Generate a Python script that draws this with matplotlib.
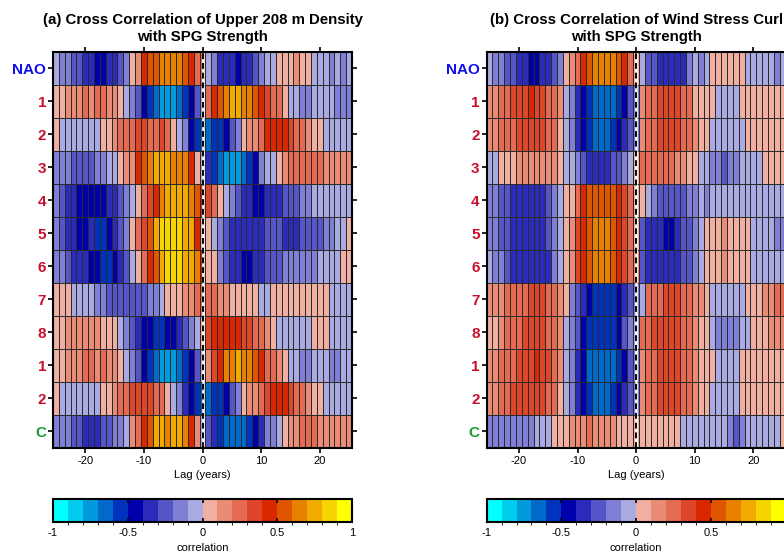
import numpy as np
import matplotlib
matplotlib.use("Agg")
import matplotlib.pyplot as plt
from matplotlib.colors import ListedColormap, BoundaryNorm

plt.rcParams['font.family'] = ['Liberation Sans', 'DejaVu Sans']
plt.rcParams['axes.unicode_minus'] = False

# lags in years
lags = np.arange(-25, 26)
row_labels = ['NAO', '1', '2', '3', '4', '5', '6', '7', '8', '1', '2', 'C']
label_colors = ['#1010ee'] + ['#c8102e'] * 10 + ['#1a9a2a']

# colour bins: k = bin number (1..10 positive, -1..-10 negative)
density_bins = [
    [-1,-2,-2,-3,-3,-4,-4,-5,-5,-4,-4,-3,-2,1,2,5,6,6,7,7,7,7,6,5,3,3,-1,-2,-4,-4,-4,-5,-4,-4,-3,-2,-1,-1,1,1,1,2,1,1,-1,-1,-1,-2,-1,-2,-1],
    [1,1,2,2,2,3,2,3,3,2,2,1,-1,-2,-3,-5,-6,-7,-8,-8,-8,-7,-6,-5,-3,-1,3,5,6,7,8,8,7,7,6,5,4,3,3,1,-1,-1,-2,-2,-1,-1,-1,-1,-2,-2,-2],
    [1,-1,-1,-1,-1,-1,-1,-1,1,1,2,3,3,3,4,4,3,3,4,3,1,-1,-2,-5,-6,-7,-7,-6,-6,-5,-3,-2,1,2,2,3,5,5,5,5,4,3,3,2,1,1,-1,-1,-1,-1,-1],
    [-2,-2,-2,-3,-3,-3,-3,-2,-2,-1,-1,1,2,2,5,6,7,8,8,8,7,7,7,5,1,-1,-4,-6,-7,-8,-8,-8,-7,-6,-5,-2,-1,-1,1,2,3,3,3,3,3,3,2,2,2,2,2],
    [-2,-3,-4,-4,-5,-5,-5,-5,-5,-4,-4,-3,-2,-1,1,3,4,5,7,8,8,8,8,7,6,5,4,3,1,-1,-2,-3,-4,-4,-5,-5,-4,-4,-4,-3,-3,-3,-2,-2,-1,-1,-1,-1,-1,-1,-1],
    [-2,-3,-4,-4,-5,-5,-4,-6,-6,-5,-4,-3,-2,1,3,4,6,8,9,9,9,9,8,8,5,1,1,-1,-2,-3,-4,-4,-4,-4,-4,-4,-3,-3,-3,-4,-4,-4,-3,-3,-3,-3,-2,-2,-1,-1,1],
    [-2,-2,-3,-4,-4,-4,-5,-5,-6,-6,-5,-4,-3,-1,1,3,5,6,8,9,9,9,8,8,7,5,1,1,-2,-3,-4,-4,-5,-5,-4,-4,-3,-3,-3,-2,-2,-2,-2,-2,-2,-1,-1,-1,-1,1,1],
    [1,1,1,-1,-1,-1,-1,-2,-2,-3,-3,-3,-3,-3,-3,-3,-2,-2,-1,1,1,1,2,2,3,3,3,3,2,2,1,1,1,1,1,-1,-1,1,1,1,1,1,1,1,1,1,1,-1,-1,-1,-1],
    [1,1,2,2,2,2,2,2,1,1,1,-1,-2,-3,-4,-5,-5,-6,-6,-5,-5,-4,-3,-2,-1,1,4,5,5,5,5,5,4,4,3,3,2,1,-1,-1,-1,-1,-1,-1,1,1,1,-1,-1,-1,-1],
    [1,1,2,2,2,3,3,2,3,2,2,1,-1,-2,-3,-5,-6,-7,-8,-8,-8,-7,-6,-5,-3,-1,2,4,5,7,7,8,7,7,6,5,3,3,2,1,-1,-1,-2,-2,-1,-1,-1,-2,-2,-1,-1],
    [1,-1,-1,-1,-1,-1,-1,-1,1,1,2,3,3,4,4,4,4,3,3,1,-1,-2,-4,-5,-6,-7,-7,-6,-6,-5,-3,-2,1,2,2,3,4,5,5,5,4,3,3,2,1,1,-1,-1,-1,-1,-1],
    [-2,-2,-2,-3,-3,-4,-4,-4,-3,-3,-2,-2,-1,2,3,5,6,8,8,7,8,8,7,5,2,-1,-3,-4,-6,-7,-7,-7,-7,-6,-5,-4,-2,-2,-1,1,2,2,3,3,3,2,2,2,2,2,2],
]

curl_bins = [
    [-1,-2,-2,-3,-3,-4,-4,-5,-5,-4,-4,-3,-2,1,2,3,5,6,7,7,7,7,6,5,3,1,-1,-3,-3,-4,-4,-4,-4,-4,-2,-1,-2,-1,1,1,1,1,1,1,-1,-1,-1,-1,-1,-2,-1],
    [2,2,3,3,4,4,4,5,4,4,3,3,2,-1,-2,-4,-5,-6,-7,-7,-7,-7,-6,-5,-3,-2,2,3,3,4,4,4,4,3,3,1,1,1,1,-1,-1,-1,-1,1,1,1,1,1,1,1,1],
    [2,2,3,3,3,4,4,4,4,4,3,3,1,-1,-2,-4,-5,-6,-7,-7,-7,-6,-5,-4,-3,-2,2,3,3,4,4,4,4,3,3,2,1,1,-1,-1,-1,-1,-1,-1,1,1,1,1,1,1,1],
    [-1,-1,1,1,1,2,2,2,2,2,2,2,1,-1,-1,-2,-3,-4,-4,-4,-4,-3,-3,-2,-1,1,3,3,3,3,3,3,2,2,1,1,-1,-1,-2,-2,-3,-2,-2,-1,-1,-1,-1,1,1,1,1],
    [-2,-2,-3,-3,-4,-4,-4,-4,-4,-4,-3,-2,-1,1,1,3,5,6,6,6,6,6,5,4,3,1,1,-1,-2,-3,-3,-3,-3,-3,-2,-2,-1,-2,-1,-1,-1,-1,-1,-1,-1,-1,-1,-1,-1,-1,-1],
    [-2,-2,-3,-3,-4,-4,-4,-4,-4,-4,-3,-2,-1,1,2,4,5,6,7,7,7,6,5,4,3,1,-3,-4,-4,-4,-5,-5,-4,-3,-3,-2,-1,1,1,1,2,1,1,1,1,-1,-1,-1,-1,-2,-2],
    [-1,-2,-2,-3,-4,-4,-4,-4,-4,-4,-4,-2,-1,1,2,4,5,6,7,7,7,6,5,4,3,2,-3,-4,-4,-4,-4,-4,-4,-3,-3,-2,-1,1,1,1,2,1,1,1,1,-1,-1,-1,-1,-1,-1],
    [2,2,2,3,3,3,3,4,4,4,3,3,2,1,-2,-3,-4,-5,-6,-6,-6,-6,-5,-4,-3,-2,-1,3,3,3,4,4,4,3,3,2,2,1,-1,-1,-1,-1,-1,-1,1,1,1,2,2,3,3],
    [1,1,2,3,3,3,4,4,4,4,3,3,2,-1,-2,-3,-5,-6,-6,-6,-6,-6,-5,-3,-2,-1,3,3,4,4,4,4,4,3,3,2,1,1,-1,-2,-2,-2,-2,-1,-1,1,1,1,2,2,2],
    [2,2,3,3,3,4,4,4,5,4,4,3,2,-1,-2,-4,-5,-7,-7,-7,-7,-7,-6,-5,-3,-2,2,3,3,4,4,4,4,3,3,2,1,1,1,-1,-1,-1,-1,1,1,1,1,1,1,1,1],
    [2,2,3,3,4,4,4,4,4,4,3,3,1,-1,-2,-4,-5,-6,-7,-7,-7,-6,-5,-4,-3,-2,2,3,3,4,4,4,4,3,3,2,1,1,-1,-1,-1,-1,-1,1,1,1,1,1,1,1,1],
    [-2,-2,-2,-2,-2,-2,-2,-2,-1,-1,-1,1,1,1,2,2,2,3,2,2,2,2,1,1,1,1,1,1,1,1,1,1,1,-1,-1,-1,-1,-1,-1,-1,-1,-2,-3,-2,-1,-1,-1,-1,-1,-1,1],
]

colors = ['#00ffff', '#00ccee', '#009add', '#006acc', '#0033bb',
          '#0000aa', '#2b2bbb', '#5555c8', '#7f7fd5', '#aaaae2',
          '#f0afa0', '#ea8b76', '#e46a52', '#dd4628', '#d92800',
          '#e05500', '#e88000', '#f0aa00', '#f7d500', '#ffff00']
levels = np.linspace(-1, 1, 21)
cmap = ListedColormap(colors)
norm = BoundaryNorm(levels, cmap.N)

cbar_ticks = [-1, -0.5, 0, 0.5, 1]
cbar_labels_a = ['-1', '-0.5', '0', '0.5', '1']
# the last label of panel (b) lies past the right edge of the picture
cbar_labels_b = ['-1', '-0.5', '0', '0.5', '']


def to_corr(bins):
    k = np.array(bins, dtype=float)
    return (k - 0.5 * np.sign(k)) / 10.0


fig = plt.figure(figsize=(7.84, 5.53), dpi=100)

panels = [
    (0.0676, '(a) Cross Correlation of Upper 208 m Density\nwith SPG Strength', density_bins, cbar_labels_a),
    (0.6207, '(b) Cross Correlation of Wind Stress Curl\nwith SPG Strength', curl_bins, cbar_labels_b),
]

for left, title, bins, cb_labels in panels:
    ax = fig.add_axes([left, 0.19, 0.3814, 0.7161])
    data = to_corr(bins)
    xe = np.arange(-25.5, 26.0, 1.0)
    ye = np.arange(len(row_labels) + 1)
    ax.pcolormesh(xe, ye, data, cmap=cmap, norm=norm,
                  edgecolors='#2a2a2a', linewidth=0.5)
    ax.axvline(0, color='white', lw=1.8)
    ax.axvline(0, color='black', lw=1.4, ls=(0, (3, 2)))
    ax.set_xlim(-25.5, 25.5)
    ax.set_ylim(len(row_labels), 0)
    ax.set_xticks([-20, -10, 0, 10, 20])
    ax.set_xticklabels(['-20', '-10', '0', '10', '20'], fontsize=8)
    ax.set_yticks(np.arange(len(row_labels)) + 0.5)
    ax.set_yticklabels(row_labels, fontsize=11, fontweight='bold')
    for lab, c in zip(ax.get_yticklabels(), label_colors):
        lab.set_color(c)
    ax.tick_params(direction='out', length=3.5, width=1.2, top=True, right=True, pad=1.5)
    ax.tick_params(axis='x', pad=2)
    for s in ax.spines.values():
        s.set_linewidth(1.5)
    ax.set_xlabel('Lag (years)', fontsize=8, labelpad=3)
    ax.set_title(title, fontsize=10.8, fontweight='bold', pad=8, linespacing=1.3)

    cax = fig.add_axes([left, 0.0561, 0.3814, 0.0416])
    cb = fig.colorbar(plt.cm.ScalarMappable(norm=norm, cmap=cmap), cax=cax,
                      orientation='horizontal', ticks=cbar_ticks)
    cb.ax.set_xticklabels(cb_labels, fontsize=8)
    cb.ax.tick_params(direction='in', length=3, width=1.2, top=True, pad=4)
    cb.outline.set_linewidth(1.5)
    cb.set_label('correlation', fontsize=8, labelpad=4)

fig.savefig('out.png', dpi=100)
